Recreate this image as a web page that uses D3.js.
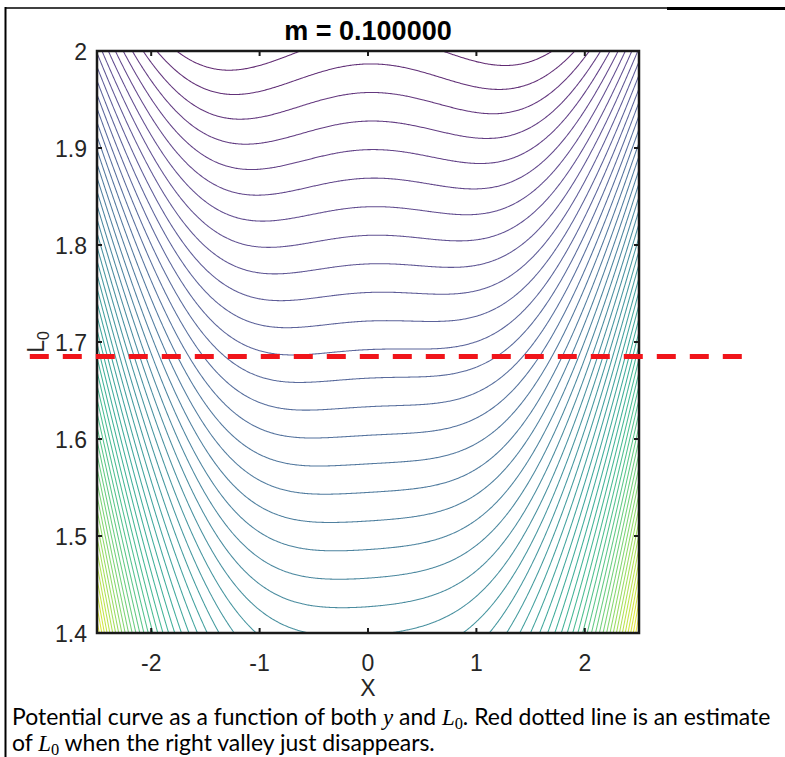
<!DOCTYPE html>
<html>
<head>
<meta charset="utf-8">
<script src="https://cdn.jsdelivr.net/npm/d3@7"></script>
<style>
  html, body { margin: 0; padding: 0; background: #fff; }
  svg { display: block; }
</style>
</head>
<body>
<svg id="fig" width="785" height="757"></svg>
<script>
// ---- axis settings ----
const xDomain = [-2.5, 2.5];
const yDomain = [1.4, 2.0];
const xTicks = [-2, -1, 0, 1, 2];
const xTickLabels = ["-2", "-1", "0", "1", "2"];
const yTicks = [1.4, 1.5, 1.6, 1.7, 1.8, 1.9, 2.0];
const yTickLabels = ["1.4", "1.5", "1.6", "1.7", "1.8", "1.9", "2"];

// ---- potential V(x, L0), expressed in L0 units ----
// V = A(L0)*x^4 - B(L0)*x^2 + M(L0)*x - L0
const quarticCoef = [0.013, 0.0119];  // A(L0) = a0 + a1*(refL0 - L0)
const softeningCoef = [0.039, 0.1];   // B(L0) = b0 + b1*(L0 - refL0)
const tiltCoef = [0.0025, 0.0102];    // M(L0) = t0 + t1*(refL0 - L0)
const refL0 = [1.96];

// ---- contour levels ----
const levelStart = [-2.0161];
const levelStep = [0.02945];
const levelCount = [60];

// ---- annotation ----
const mValue = [0.1];
const valleyL0 = [1.685];           // right valley vanishing estimate
const valleyLineX = [-3.12, 3.47];  // extent of the dashed estimate line

const svg = d3.select("#fig");
const margin = { left: 97, right: 639, top: 51, bottom: 633 };

const xScale = d3.scaleLinear().domain(xDomain).range([margin.left, margin.right]);
const yScale = d3.scaleLinear().domain(yDomain).range([margin.bottom, margin.top]);

function potential(x, L) {
  const A = quarticCoef[0] + quarticCoef[1] * (refL0[0] - L);
  const B = softeningCoef[0] + softeningCoef[1] * (L - refL0[0]);
  const M = tiltCoef[0] + tiltCoef[1] * (refL0[0] - L);
  return A * x ** 4 - B * x * x + M * x - L;
}

// sample grid
const nx = 521, ny = 321;
const hx = (xDomain[1] - xDomain[0]) / (nx - 1);
const hy = (yDomain[1] - yDomain[0]) / (ny - 1);
const values = new Float64Array(nx * ny);
for (let j = 0; j < ny; j++) {
  const L = yDomain[1] - j * hy;
  for (let i = 0; i < nx; i++) {
    const x = xDomain[0] + i * hx;
    values[j * nx + i] = potential(x, L);
  }
}
const zMin = d3.min(values), zMax = d3.max(values);

const levels = d3.range(levelCount[0]).map(k => levelStart[0] + k * levelStep[0]);

const contours = d3.contours().size([nx, ny]).smooth(true).thresholds(levels)(values);

const proj = d3.geoTransform({
  point(gx, gy) {
    const x = xDomain[0] + (gx - 0.5) * hx;
    const L = yDomain[1] - (gy - 0.5) * hy;
    this.stream.point(xScale(x), yScale(L));
  }
});
const path = d3.geoPath(proj);

// white paper background
svg.append("rect").attr("width", 785).attr("height", 757).attr("fill", "#fff");

svg.append("defs").append("clipPath").attr("id", "plotClip")
  .append("rect")
  .attr("x", margin.left).attr("y", margin.top)
  .attr("width", margin.right - margin.left).attr("height", margin.bottom - margin.top);

const color = t => d3.interpolateViridis(t);

svg.append("g").attr("clip-path", "url(#plotClip)")
  .selectAll("path")
  .data(contours.filter(c => c.coordinates.length > 0))
  .join("path")
  .attr("d", path)
  .attr("fill", "none")
  .attr("stroke", d => color((d.value - zMin) / (zMax - zMin)))
  .attr("stroke-opacity", 0.85)
  .attr("stroke-width", 1.05)
  .attr("stroke-linejoin", "round");

// ---- axes box and ticks ----
const axisColor = "#1a1a1a";
const tickLen = 5;
const tickFont = "'Liberation Sans', Arial, sans-serif";
const axes = svg.append("g");
axes.append("rect")
  .attr("x", margin.left).attr("y", margin.top)
  .attr("width", margin.right - margin.left).attr("height", margin.bottom - margin.top)
  .attr("fill", "none").attr("stroke", axisColor).attr("stroke-width", 2.5);

xTicks.forEach((v, i) => {
  const px = xScale(v);
  axes.append("line").attr("x1", px).attr("x2", px)
    .attr("y1", margin.bottom).attr("y2", margin.bottom - tickLen)
    .attr("stroke", axisColor).attr("stroke-width", 2);
  axes.append("line").attr("x1", px).attr("x2", px)
    .attr("y1", margin.top).attr("y2", margin.top + tickLen)
    .attr("stroke", axisColor).attr("stroke-width", 2);
  axes.append("text").attr("x", px).attr("y", margin.bottom + 30)
    .attr("text-anchor", "middle").attr("dominant-baseline", "central")
    .attr("font-family", tickFont)
    .attr("font-size", 23).attr("fill", "#262626")
    .text(xTickLabels[i]);
});
yTicks.forEach((v, i) => {
  const py = yScale(v);
  axes.append("line").attr("x1", margin.left).attr("x2", margin.left + tickLen)
    .attr("y1", py).attr("y2", py)
    .attr("stroke", axisColor).attr("stroke-width", 2);
  axes.append("line").attr("x1", margin.right).attr("x2", margin.right - tickLen)
    .attr("y1", py).attr("y2", py)
    .attr("stroke", axisColor).attr("stroke-width", 2);
  axes.append("text").attr("x", margin.left - 10).attr("y", py + 1)
    .attr("text-anchor", "end").attr("dominant-baseline", "central")
    .attr("font-family", tickFont)
    .attr("font-size", 23).attr("fill", "#262626")
    .text(yTickLabels[i]);
});

// axis labels
svg.append("text").attr("x", xScale(0)).attr("y", margin.bottom + 55)
  .attr("text-anchor", "middle").attr("dominant-baseline", "central")
  .attr("font-family", tickFont)
  .attr("font-size", 23).attr("fill", "#262626").text("X");

const yl = svg.append("text")
  .attr("transform", `translate(44, ${yScale(1.7)}) rotate(-90)`)
  .attr("text-anchor", "middle")
  .attr("font-family", tickFont)
  .attr("font-size", 23).attr("fill", "#262626");
yl.append("tspan").text("L");
yl.append("tspan").attr("font-size", 16).attr("dy", 5).text("0");

// title
svg.append("text").attr("x", xScale(0)).attr("y", 40)
  .attr("text-anchor", "middle")
  .attr("font-family", tickFont)
  .attr("font-weight", "bold").attr("font-size", 27).attr("fill", "#000")
  .text(`m = ${mValue[0].toFixed(6)}`);

// dashed estimate of the L0 at which the right valley disappears
svg.append("line")
  .attr("x1", xScale(valleyLineX[0])).attr("x2", xScale(valleyLineX[1]))
  .attr("y1", yScale(valleyL0[0])).attr("y2", yScale(valleyL0[0]))
  .attr("stroke", "#f0141a").attr("stroke-width", 5)
  .attr("stroke-dasharray", "19 14");

// ---- document frame (table borders) ----
svg.append("line").attr("x1", 5.5).attr("x2", 5.5).attr("y1", 7).attr("y2", 757)
  .attr("stroke", "#000").attr("stroke-width", 2);
svg.append("line").attr("x1", 5).attr("x2", 667).attr("y1", 8).attr("y2", 8)
  .attr("stroke", "#000").attr("stroke-width", 1.5);
svg.append("line").attr("x1", 667).attr("x2", 785).attr("y1", 8.5).attr("y2", 8.5)
  .attr("stroke", "#000").attr("stroke-width", 3);

// ---- caption ----
const capFont = "Lato, 'Open Sans', sans-serif";
const mathFont = "'Liberation Serif', 'DejaVu Serif', serif";
const cap1 = svg.append("text").attr("x", 12).attr("y", 725)
  .attr("font-family", capFont).attr("font-size", 21).attr("fill", "#000");
cap1.append("tspan").text("Potential curve as a function of both ");
cap1.append("tspan").attr("font-family", mathFont).attr("font-style", "italic").text("y");
cap1.append("tspan").text(" and ");
cap1.append("tspan").attr("font-family", mathFont).attr("font-style", "italic").text("L");
cap1.append("tspan").attr("font-family", mathFont).attr("font-size", 15).attr("dy", 4).text("0");
cap1.append("tspan").attr("dy", -4).text(". Red dotted line is an estimate");

const cap2 = svg.append("text").attr("x", 12).attr("y", 751)
  .attr("font-family", capFont).attr("font-size", 21).attr("fill", "#000");
cap2.append("tspan").text("of ");
cap2.append("tspan").attr("font-family", mathFont).attr("font-style", "italic").text("L");
cap2.append("tspan").attr("font-family", mathFont).attr("font-size", 15).attr("dy", 4).text("0");
cap2.append("tspan").attr("dy", -4).text(" when the right valley just disappears.");

// fit caption line 1 to the column width
const w1 = cap1.node().getComputedTextLength();
const target = 759;
const scale = target / w1;
[cap1, cap2].forEach(t => {
  t.attr("font-size", 21 * scale);
  t.selectAll("tspan").each(function () {
    const fs = d3.select(this).attr("font-size");
    if (fs) d3.select(this).attr("font-size", +fs * scale);
  });
});
</script>
</body>
</html>
